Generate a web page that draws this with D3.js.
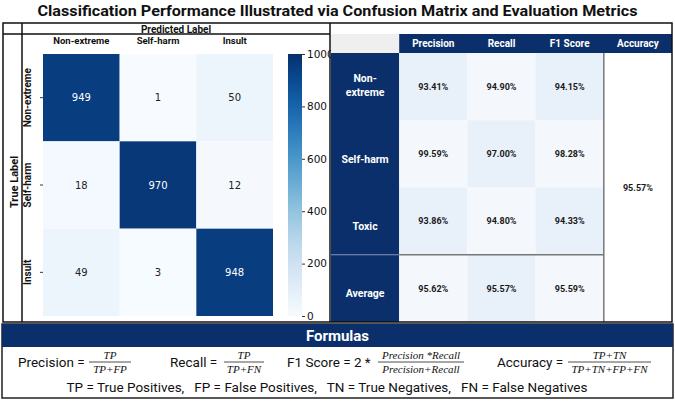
<!DOCTYPE html>
<html>
<head>
<meta charset="utf-8">
<script src="https://cdn.jsdelivr.net/npm/d3@7"></script>
<style>
  body { margin: 0; background: #fff; }
  svg text { font-family: Roboto, "DejaVu Sans", sans-serif; }
</style>
</head>
<body>
<div id="chart"></div>
<script>
// data
const classes = ["Non-extreme", "Self-harm", "Insult"];
const matrix = [
  [949, 1, 50],
  [18, 970, 12],
  [49, 3, 948]
];
const cbTicks = [0, 200, 400, 600, 800, 1000];

const metricRows = ["Non-extreme", "Self-harm", "Toxic", "Average"];
const metricCols = ["Precision", "Recall", "F1 Score"];
const precision = [93.41, 99.59, 93.86, 95.62];
const recall = [94.90, 97.00, 94.80, 95.57];
const f1 = [94.15, 98.28, 94.33, 95.59];
const accuracy = 95.57;

const W = 675, H = 403;
const NAVY = "#0b2f6a";

const svg = d3.select("#chart").append("svg")
  .attr("width", W).attr("height", H);

// title
svg.append("text")
  .attr("x", W / 2).attr("y", 16)
  .attr("text-anchor", "middle")
  .attr("textLength", 600).attr("lengthAdjust", "spacingAndGlyphs")
  .style("font-size", "15px").style("font-weight", "bold")
  .attr("fill", "#111")
  .text("Classification Performance Illustrated via Confusion Matrix and Evaluation Metrics");

// ---------- left panel: confusion matrix ----------
const x = d3.scaleBand().domain(classes).range([43, 273]);
const y = d3.scaleBand().domain(classes).range([54, 316]);
const color = d3.scaleSequential(d3.interpolateBlues).domain([0, 1000]);

const cells = [];
matrix.forEach((row, i) => row.forEach((v, j) => cells.push({ t: classes[i], p: classes[j], v })));

svg.append("g").selectAll("rect")
  .data(cells)
  .join("rect")
    .attr("x", d => x(d.p))
    .attr("y", d => y(d.t))
    .attr("width", x.bandwidth())
    .attr("height", y.bandwidth())
    .attr("fill", d => color(d.v));

svg.append("g").selectAll("text")
  .data(cells)
  .join("text")
    .attr("x", d => x(d.p) + x.bandwidth() / 2)
    .attr("y", d => y(d.t) + y.bandwidth() / 2)
    .attr("dy", "0.35em")
    .attr("text-anchor", "middle")
    .style("font-family", "'DejaVu Sans', sans-serif")
    .style("font-size", "10px")
    .attr("fill", d => d.v > 500 ? "#fff" : "#222")
    .text(d => d.v);

// column labels
const xAxis = svg.append("g")
  .attr("transform", "translate(0,44)")
  .call(d3.axisTop(x).tickSize(0).tickPadding(0));
xAxis.select(".domain").remove();
xAxis.selectAll("text")
  .style("font-size", "9.5px").style("font-weight", "bold").attr("fill", "#111");

// row labels
const yAxis = svg.append("g")
  .attr("transform", "translate(43,0)")
  .call(d3.axisLeft(y).tickSize(3).tickPadding(4));
yAxis.select(".domain").remove();
yAxis.selectAll("line").attr("stroke", "#333");
yAxis.selectAll("text")
  .attr("transform", "rotate(-90)")
  .attr("x", 0).attr("y", -12)
  .attr("dy", "0")
  .attr("text-anchor", "middle")
  .style("font-size", "10px").style("font-weight", "bold").attr("fill", "#111");

// colorbar
const cbY = d3.scaleLinear().domain([0, 1000]).range([316, 54]);
const grad = svg.append("defs").append("linearGradient")
  .attr("id", "cb").attr("x1", 0).attr("y1", 1).attr("x2", 0).attr("y2", 0);
d3.range(0, 1.0001, 0.05).forEach(t => {
  grad.append("stop").attr("offset", t).attr("stop-color", color(t * 1000));
});
svg.append("rect")
  .attr("x", 288).attr("y", cbY(1000))
  .attr("width", 14).attr("height", cbY(0) - cbY(1000))
  .attr("fill", "url(#cb)");
const cbAxis = svg.append("g")
  .attr("transform", "translate(302,0)")
  .call(d3.axisRight(cbY).tickValues(cbTicks).tickFormat(d3.format("d")).tickSize(3).tickPadding(2));
cbAxis.select(".domain").remove();
cbAxis.selectAll("line").attr("stroke", "#333");
cbAxis.selectAll("text")
  .style("font-family", "'DejaVu Sans', sans-serif")
  .style("font-size", "10.5px").attr("fill", "#111");

// frame and labels of the left panel
svg.append("text")
  .attr("x", 176).attr("y", 29).attr("dy", "0.35em")
  .attr("text-anchor", "middle")
  .style("font-size", "10px").style("font-weight", "bold").attr("fill", "#111")
  .text("Predicted Label");
svg.append("text")
  .attr("transform", "translate(14,182) rotate(-90)")
  .attr("dy", "0.35em")
  .attr("text-anchor", "middle")
  .style("font-size", "11px").style("font-weight", "bold").attr("fill", "#111")
  .text("True Label");

// ---------- right panel: metrics table ----------
const colX = d3.scaleBand().domain(["label", ...metricCols, "Accuracy"]).range([331, 672]);
const rowY = d3.scaleBand().domain(metricRows).range([53, 322]);
const HEAD_TOP = 34;

// header
svg.append("rect")
  .attr("x", colX("label")).attr("y", HEAD_TOP)
  .attr("width", colX.bandwidth()).attr("height", 53 - HEAD_TOP)
  .attr("fill", "#efefef");
svg.append("rect")
  .attr("x", colX("Precision")).attr("y", HEAD_TOP)
  .attr("width", 672 - colX("Precision")).attr("height", 53 - HEAD_TOP)
  .attr("fill", NAVY);
svg.append("g").selectAll("text")
  .data([...metricCols, "Accuracy"])
  .join("text")
    .attr("x", d => colX(d) + colX.bandwidth() / 2)
    .attr("y", (HEAD_TOP + 53) / 2).attr("dy", "0.35em")
    .attr("text-anchor", "middle")
    .style("font-size", "10px").style("font-weight", "bold").attr("fill", "#fff")
    .text(d => d);

// row labels
svg.append("rect")
  .attr("x", colX("label")).attr("y", rowY.range()[0])
  .attr("width", colX.bandwidth()).attr("height", rowY.range()[1] - rowY.range()[0])
  .attr("fill", NAVY);
svg.append("line")
  .attr("x1", colX("label")).attr("x2", colX("Precision"))
  .attr("y1", rowY("Average")).attr("y2", rowY("Average"))
  .attr("stroke", "#8796b5").attr("stroke-width", 1);
const rowLab = svg.append("g").selectAll("text")
  .data(metricRows)
  .join("text")
    .attr("x", colX("label") + colX.bandwidth() / 2)
    .attr("y", d => rowY(d) + rowY.bandwidth() / 2 + 5)
    .attr("text-anchor", "middle")
    .style("font-size", "10.5px").style("font-weight", "bold").attr("fill", "#fff");
rowLab.each(function(d) {
  const t = d3.select(this);
  if (d === "Non-extreme") {
    t.append("tspan").attr("x", colX("label") + colX.bandwidth() / 2).attr("dy", "-0.9em").text("Non-");
    t.append("tspan").attr("x", colX("label") + colX.bandwidth() / 2).attr("dy", "1.3em").text("extreme");
  } else {
    t.append("tspan").attr("dy", "0.35em").text(d);
  }
});

// value cells
const metricCells = [];
metricRows.forEach((r, i) => {
  [precision, recall, f1].forEach((arr, j) => {
    metricCells.push({ r, c: metricCols[j], v: arr[i], i, j });
  });
});
svg.append("g").selectAll("rect")
  .data(metricCells)
  .join("rect")
    .attr("x", d => colX(d.c))
    .attr("y", d => rowY(d.r))
    .attr("width", colX.bandwidth())
    .attr("height", rowY.bandwidth())
    .attr("fill", d => (d.i + d.j) % 2 === 0 ? "#e8f0fa" : "#f4f8fd");
svg.append("g").selectAll("text")
  .data(metricCells)
  .join("text")
    .attr("x", d => colX(d.c) + colX.bandwidth() / 2)
    .attr("y", d => rowY(d.r) + rowY.bandwidth() / 2)
    .attr("dy", "0.35em")
    .attr("text-anchor", "middle")
    .style("font-size", "9px").style("font-weight", "bold").attr("fill", "#1a1a1a")
    .text(d => d.v.toFixed(2) + "%");

// accuracy
svg.append("text")
  .attr("x", colX("Accuracy") + colX.bandwidth() / 2)
  .attr("y", (rowY.range()[0] + rowY.range()[1]) / 2)
  .attr("dy", "0.35em")
  .attr("text-anchor", "middle")
  .style("font-size", "9px").style("font-weight", "bold").attr("fill", "#1a1a1a")
  .text(accuracy.toFixed(2) + "%");

// gray grid lines of the table
svg.append("line")
  .attr("x1", colX("Accuracy")).attr("x2", colX("Accuracy"))
  .attr("y1", 53).attr("y2", 322)
  .attr("stroke", "#777").attr("stroke-width", 1.5);
svg.append("line")
  .attr("x1", colX("Precision")).attr("x2", colX("Accuracy"))
  .attr("y1", rowY("Average")).attr("y2", rowY("Average"))
  .attr("stroke", "#777").attr("stroke-width", 1.5);

// black frame
const frame = svg.append("g").attr("stroke", "#111").attr("fill", "none").attr("stroke-width", 1.5);
frame.append("rect").attr("x", 3).attr("y", 23).attr("width", 669).attr("height", 299);
frame.append("line").attr("x1", 3).attr("x2", 330).attr("y1", 34).attr("y2", 34);
frame.append("line").attr("x1", 22).attr("x2", 22).attr("y1", 23).attr("y2", 322);
frame.append("line").attr("x1", 330).attr("x2", 330).attr("y1", 23).attr("y2", 322);

// ---------- formulas panel ----------
svg.append("rect")
  .attr("x", 2).attr("y", 324).attr("width", 671).attr("height", 74)
  .attr("fill", "#fff").attr("stroke", "#222").attr("stroke-width", 1.5);
svg.append("rect")
  .attr("x", 2).attr("y", 324).attr("width", 671).attr("height", 23)
  .attr("fill", NAVY);
svg.append("text")
  .attr("x", W / 2).attr("y", 336).attr("dy", "0.35em")
  .attr("text-anchor", "middle")
  .style("font-size", "15px").style("font-weight", "bold").attr("fill", "#fff")
  .text("Formulas");

const formulas = [
  { label: "Precision =", lx: 18, num: "TP", den: "TP+FP", fx: 89, fw: 42 },
  { label: "Recall =", lx: 170, num: "TP", den: "TP+FN", fx: 224, fw: 40 },
  { label: "F1 Score = 2 *", lx: 287, num: "Precision *Recall", den: "Precision+Recall", fx: 378, fw: 86 },
  { label: "Accuracy =", lx: 497, num: "TP+TN", den: "TP+TN+FP+FN", fx: 568, fw: 83 }
];
const fg = svg.append("g").selectAll("g").data(formulas).join("g");
fg.append("text")
  .attr("x", d => d.lx).attr("y", 362).attr("dy", "0.35em")
  .style("font-size", "13.5px").attr("fill", "#111")
  .text(d => d.label);
fg.append("line")
  .attr("x1", d => d.fx).attr("x2", d => d.fx + d.fw)
  .attr("y1", 362).attr("y2", 362)
  .attr("stroke", "#222").attr("stroke-width", 0.8);
fg.append("text")
  .attr("x", d => d.fx + d.fw / 2).attr("y", 359)
  .attr("text-anchor", "middle")
  .style("font-family", "'Liberation Serif', serif").style("font-style", "italic")
  .style("font-size", "11px").attr("fill", "#111")
  .text(d => d.num);
fg.append("text")
  .attr("x", d => d.fx + d.fw / 2).attr("y", 373)
  .attr("text-anchor", "middle")
  .style("font-family", "'Liberation Serif', serif").style("font-style", "italic")
  .style("font-size", "11px").attr("fill", "#111")
  .text(d => d.den);

svg.append("text")
  .attr("x", 327).attr("y", 387).attr("dy", "0.35em")
  .attr("text-anchor", "middle")
  .attr("textLength", 521).attr("lengthAdjust", "spacingAndGlyphs")
  .style("font-size", "13.5px").attr("fill", "#111")
  .attr("xml:space", "preserve")
  .text("TP = True Positives,   FP = False Positives,   TN = True Negatives,   FN = False Negatives");
</script>
</body>
</html>
